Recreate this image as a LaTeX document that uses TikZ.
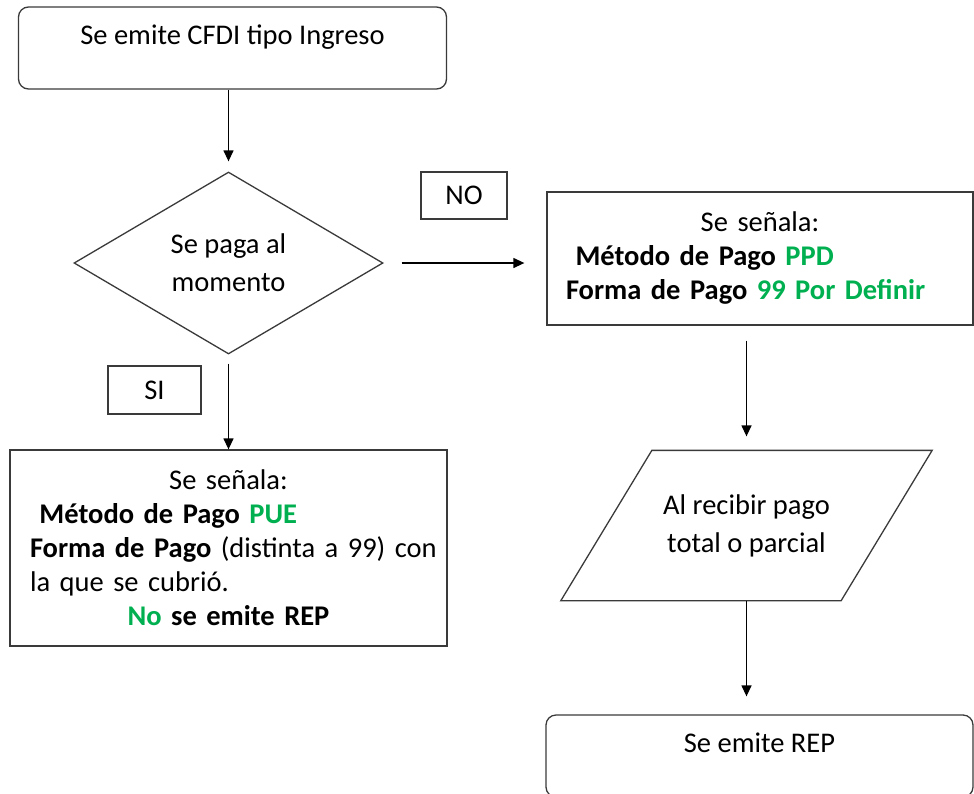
\documentclass[tikz,border=0pt]{standalone}
\usepackage{fontspec}
\setmainfont{Carlito}
\usetikzlibrary{shapes.geometric,arrows.meta}
\definecolor{verde}{HTML}{00B050}
\definecolor{borde}{HTML}{3A3A3A}
\setlength{\parindent}{0pt}

\begin{document}
\begin{tikzpicture}
[x=1pt,y=-1pt,
 every node/.style={draw=borde,line width=1.3pt,font=\fontsize{28.5}{34}\selectfont},
 extremo/.style={rounded corners=10pt,minimum width=428pt,minimum height=82pt,text height=20pt,text depth=27pt},
 decision/.style={diamond,minimum width=309pt,minimum height=182pt,inner sep=0pt,align=center,font=\fontsize{28.5}{38}\selectfont},
 caja/.style={rectangle},
 etiqueta/.style={rectangle,inner sep=0pt},
 entrada/.style={rectangle,draw=none,minimum width=188pt,minimum height=149pt,inner sep=0pt,align=center,font=\fontsize{28.5}{38}\selectfont},
 flecha/.style={-{Triangle[width=10pt,length=11pt]},line width=1.3pt}]
\useasboundingbox (0,0) rectangle (974,793);
\node[extremo] (inicio) at (232.5,48) {Se emite CFDI tipo Ingreso};
\node[decision] (decide) at (228.5,263) {Se paga al\\momento};
\node[etiqueta,minimum width=86pt,minimum height=47pt] (no) at (464,195.5) {NO};
\node[etiqueta,minimum width=93pt,minimum height=48pt] (si) at (154.5,390) {SI};
\node[caja,minimum width=426pt,minimum height=133pt,text width=388pt] (ppd) at (760,258.5)
  {\raggedright
   {\centering Se señala:\par}
   \ \textbf{Método de Pago} \textbf{\color{verde}PPD}\par
   \textbf{Forma de Pago} \textbf{\color{verde}99 Por Definir}\par};
\node[caja,minimum width=437pt,minimum height=196pt,text width=397pt] (pue) at (228.5,548)
  {\raggedright
   {\centering Se señala:\par}
   \ \textbf{Método de Pago} \textbf{\color{verde}PUE}\par
   \mbox{\textbf{Forma de Pago} (distinta a 99) con}\par
   la que se cubrió.\par
   {\centering \textbf{\color{verde}No} \textbf{se emite REP}\par}};
\node[entrada] (recibe) at (746.5,525.5) {Al recibir pago\\total o parcial};
\draw[draw=borde,line width=1.3pt] ([xshift=-91pt]recibe.south west) -- (recibe.north west)
  -- ([xshift=91pt]recibe.north east) -- (recibe.south east) -- cycle;
\node[extremo,minimum width=427pt] (emite) at (759.5,756) {Se emite REP};
% conectores
\draw[flecha,shorten >=10pt] (decide.north |- inicio.south) -- (decide.north);
\draw[flecha,shorten <=18pt,shorten >=22pt] (decide.east) -- (decide.east -| ppd.west);
\draw[flecha,shorten <=9pt] (decide.south) -- (decide.south |- pue.north);
\draw[flecha,shorten <=15pt,shorten >=14pt] (recibe.north |- ppd.south) -- (recibe.north);
\draw[flecha,shorten >=18pt] (recibe.south) -- (recibe.south |- emite.north);
\end{tikzpicture}
\end{document}
